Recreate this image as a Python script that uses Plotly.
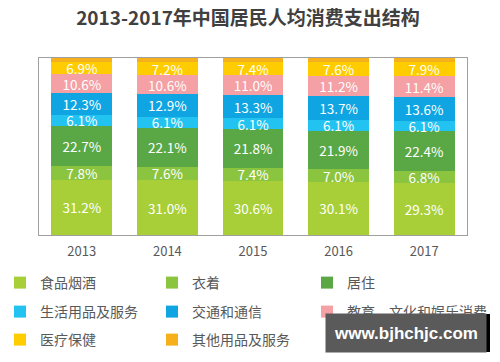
import plotly.graph_objects as go

years = ["2013", "2014", "2015", "2016", "2017"]
categories = ["食品烟酒", "衣着", "居住", "生活用品及服务", "交通和通信",
              "教育、文化和娱乐消费", "医疗保健", "其他用品及服务"]
food = [31.2, 31.0, 30.6, 30.1, 29.3]
clothing = [7.8, 7.6, 7.4, 7.0, 6.8]
housing = [22.7, 22.1, 21.8, 21.9, 22.4]
household = [6.1, 6.1, 6.1, 6.1, 6.1]
transport = [12.3, 12.9, 13.3, 13.7, 13.6]
education = [10.6, 10.6, 11.0, 11.2, 11.4]
medical = [6.9, 7.2, 7.4, 7.6, 7.9]
other = [2.4, 2.5, 2.4, 2.4, 2.5]

series = [food, clothing, housing, household, transport, education, medical, other]
colors = ["#a8cf38", "#8bc43f", "#5aa845", "#22c3f0", "#0ea5e2", "#f4a0a4", "#ffcc00", "#f6b01c"]
show_text = [True, True, True, True, True, True, True, False]

FONT = "Noto Sans CJK SC, Microsoft YaHei, sans-serif"
W, H = 500, 362

# legend grid: 3 columns, 3 rows (positions in pixels)
col_x = [0, 152, 307]
row_y = [283, 312, 340]

fig = go.Figure()
legend_layouts = {}
for i, (name, vals, col, st) in enumerate(zip(categories, series, colors, show_text)):
    lg = "legend" if i == 0 else f"legend{i + 1}"
    r, c = divmod(i, 3)
    legend_layouts[lg] = dict(
        xref="container", yref="container",
        x=col_x[c] / W, y=1 - row_y[r] / H,
        xanchor="left", yanchor="middle", orientation="h",
        font=dict(size=14, color="#595959", family=FONT),
        bgcolor="rgba(0,0,0,0)", borderwidth=0,
        itemclick=False, itemdoubleclick=False,
    )
    fig.add_trace(go.Bar(
        x=years, y=vals, name=name, marker=dict(color=col, line=dict(width=0)),
        text=[f"{v:.1f}%" for v in vals] if st else None,
        textposition="inside" if st else "none",
        insidetextanchor="middle",
        constraintext="none",
        textfont=dict(color="white", size=13.5, family=FONT),
        legend=lg,
        hoverinfo="skip",
    ))

fig.update_layout(
    width=W, height=H,
    margin=dict(l=39, r=33, t=58, b=127, autoexpand=False),
    paper_bgcolor="white", plot_bgcolor="white",
    barmode="stack", bargap=0.29,
    showlegend=True,
    title=dict(text="<b>2013-2017年中国居民人均消费支出结构</b>", x=0.496, xanchor="center",
               y=1 - 18 / H, yanchor="middle",
               font=dict(size=19, color="#404040", family=FONT)),
    font=dict(family=FONT),
    xaxis=dict(showline=True, linecolor="#a0a0a0", linewidth=1, mirror=True,
               ticks="", ticklabelstandoff=4,
               tickfont=dict(size=13, color="#595959", family=FONT),
               showgrid=False),
    yaxis=dict(range=[0, 100], showline=True, linecolor="#a0a0a0", linewidth=1, mirror=True,
               showticklabels=False, ticks="", showgrid=False, zeroline=False),
    annotations=[dict(text="<b>www.bjhchjc.com</b>", xref="paper", yref="paper",
                      x=(406 - 39) / 428, y=(235 - 333) / 177, xanchor="center", yanchor="middle",
                      showarrow=False,
                      font=dict(size=17, color="white", family="Liberation Sans, Arial, sans-serif"),
                      bgcolor="#5a5a5a", width=158, height=36, borderpad=1)],
    shapes=[dict(type="rect", xref="paper", yref="paper",
                 x0=(486 - 39) / 428, x1=(490 - 39) / 428,
                 y0=(235 - 352) / 177, y1=(235 - 314) / 177,
                 fillcolor="black", line=dict(width=0), layer="above")],
    **legend_layouts,
)
fig.write_html("out.html", config={"displayModeBar": False})

# remove the browser's default 8px page margin so the figure sits at the window origin
with open("out.html", encoding="utf-8") as f:
    html = f.read()
html = html.replace("<head>", "<head><style>html,body{margin:0;padding:0;overflow:hidden;}</style>", 1)
with open("out.html", "w", encoding="utf-8") as f:
    f.write(html)
